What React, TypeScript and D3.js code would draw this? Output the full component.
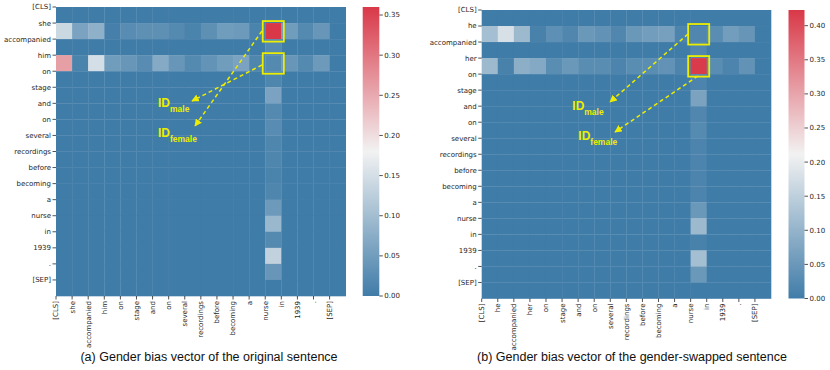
import React from "react";
import * as d3 from "d3";

const tokensA = ["[CLS]", "she", "accompanied", "him", "on", "stage", "and", "on", "several", "recordings", "before", "becoming", "a", "nurse", "in", "1939", ".", "[SEP]"];
const tokensB = ["[CLS]", "he", "accompanied", "her", "on", "stage", "and", "on", "several", "recordings", "before", "becoming", "a", "nurse", "in", "1939", ".", "[SEP]"];

// Chart (a): original sentence
const rowSheA = [0.14, 0.06, 0.08, 0.005, 0.025, 0.03, 0.03, 0.02, 0.01, 0.03, 0.05, 0.045, 0.01, 0.36, 0.05, 0.02, 0.04, 0];
const rowHimA = [0.26, 0.01, 0.15, 0.05, 0.04, 0.025, 0.07, 0.04, 0.02, 0.035, 0.05, 0.06, 0.015, 0.02, 0.04, 0.02, 0.045, 0];
const nurseColA = [0, 0.36, 0.02, 0.02, 0.015, 0.06, 0.02, 0.025, 0.015, 0.015, 0.01, 0.015, 0.045, 0.09, 0.02, 0.13, 0.04, 0];
const vmaxA = 0.36;
const cbarTicksA = [0, 0.05, 0.1, 0.15, 0.2, 0.25, 0.3, 0.35];

// Chart (b): gender-swapped sentence
const rowHeB = [0.12, 0.18, 0.11, 0.01, 0.035, 0.02, 0.05, 0.04, 0.02, 0.05, 0.06, 0.065, 0.015, 0.02, 0.03, 0.06, 0.045, 0];
const rowHerB = [0.11, 0.01, 0.09, 0.08, 0.03, 0.05, 0.03, 0.03, 0.015, 0.03, 0.03, 0.04, 0.015, 0.42, 0.03, 0.015, 0.04, 0];
const nurseColB = [0, 0.02, 0.02, 0.42, 0.015, 0.07, 0.02, 0.025, 0.015, 0.015, 0.015, 0.015, 0.05, 0.11, 0.01, 0.12, 0.05, 0];
const vmaxB = 0.423;
const cbarTicksB = [0, 0.05, 0.1, 0.15, 0.2, 0.25, 0.3, 0.35, 0.4];

const BLUE = "rgb(64,124,168)";
const MID = "rgb(242,242,242)";
const RED = "rgb(217,56,72)";
const YEL = "#eded00";
const TXT = "#262626";

function buildMatrix(r1: number[], r3: number[], col13: number[]) {
  const m: number[][] = [];
  for (let r = 0; r < 18; r++) {
    const row: number[] = [];
    for (let c = 0; c < 18; c++) {
      let v = 0;
      if (r === 1) v = r1[c];
      else if (r === 3) v = r3[c];
      else if (c === 13) v = col13[r];
      row.push(v);
    }
    m.push(row);
  }
  return m;
}

type Ann = {
  maleFrom: [number, number]; maleTo: [number, number];
  femFrom: [number, number]; femTo: [number, number];
  maleLabel: [number, number]; femLabel: [number, number];
};

function Panel(props: {
  id: string; tokens: string[]; matrix: number[][]; vmax: number; ticks: number[];
  x0: number; x1: number; y0: number; y1: number; cbx: number; cbw: number;
  caption: string; capX: number; ann: Ann; boxRows: number[];
}) {
  const { id, tokens, matrix, vmax, ticks, x0, x1, y0, y1, cbx, cbw, caption, capX, ann, boxRows } = props;
  const idx = d3.range(tokens.length);
  const xs = d3.scaleBand<number>().domain(idx).range([x0, x1]);
  const ys = d3.scaleBand<number>().domain(idx).range([y0, y1]);
  const color = d3.scaleLinear<string>().domain([0, vmax / 2, vmax]).range([BLUE, MID, RED]).interpolate(d3.interpolateRgb).clamp(true);
  const cy = d3.scaleLinear().domain([0, vmax]).range([y1, y0]);
  const gradId = "grad-" + id;
  const markId = "arrow-" + id;
  const bw = xs.bandwidth();
  const bh = ys.bandwidth();
  return (
    <g>
      <defs>
        <linearGradient id={gradId} x1="0" y1="1" x2="0" y2="0">
          <stop offset="0%" stopColor={BLUE} />
          <stop offset="50%" stopColor={MID} />
          <stop offset="100%" stopColor={RED} />
        </linearGradient>
        <marker id={markId} viewBox="0 0 10 10" refX="9" refY="5" markerWidth="5" markerHeight="5" orient="auto" markerUnits="strokeWidth">
          <path d="M0,0 L10,5 L0,10 z" fill={YEL} />
        </marker>
      </defs>
      {matrix.map((row, r) =>
        row.map((v, c) => (
          <rect key={r + "-" + c} x={xs(c)!} y={ys(r)!} width={bw + 0.3} height={bh + 0.3} fill={color(v)} />
        ))
      )}
      {/* y axis */}
      {tokens.map((t, i) => (
        <g key={"y" + i}>
          <line x1={x0 - 3.5} x2={x0} y1={ys(i)!} y2={ys(i)!} stroke={TXT} strokeWidth={0.8} />
          <text x={x0 - 5} y={ys(i)!} dy="0.35em" textAnchor="end" fontSize={7} fontFamily="DejaVu Sans" fill={TXT}>{t}</text>
        </g>
      ))}
      {/* x axis */}
      {tokens.map((t, i) => (
        <g key={"x" + i}>
          <line x1={xs(i)!} x2={xs(i)!} y1={y1} y2={y1 + 3.5} stroke={TXT} strokeWidth={0.8} />
          <text transform={`translate(${xs(i)!},${y1 + 5}) rotate(-90)`} dy="0.35em" textAnchor="end" fontSize={7} fontFamily="DejaVu Sans" fill={TXT}>{t}</text>
        </g>
      ))}
      {/* colorbar */}
      <rect x={cbx} y={y0} width={cbw} height={y1 - y0} fill={`url(#${gradId})`} />
      {ticks.map((t) => (
        <g key={"c" + t}>
          <line x1={cbx + cbw} x2={cbx + cbw + 3.5} y1={cy(t)} y2={cy(t)} stroke={TXT} strokeWidth={0.8} />
          <text x={cbx + cbw + 5} y={cy(t)} dy="0.35em" fontSize={7} fontFamily="DejaVu Sans" fill={TXT}>{t.toFixed(2)}</text>
        </g>
      ))}
      {/* highlight boxes */}
      {boxRows.map((r) => (
        <rect key={"b" + r} x={xs(13)! - 2.5} y={ys(r)! - 2} width={bw + 5} height={bh + 4.5} fill="none" stroke={YEL} strokeWidth={1.8} />
      ))}
      {/* arrows */}
      <line x1={ann.maleFrom[0]} y1={ann.maleFrom[1]} x2={ann.maleTo[0]} y2={ann.maleTo[1]} stroke={YEL} strokeWidth={1.5} strokeDasharray="4,3" markerEnd={`url(#${markId})`} />
      <line x1={ann.femFrom[0]} y1={ann.femFrom[1]} x2={ann.femTo[0]} y2={ann.femTo[1]} stroke={YEL} strokeWidth={1.5} strokeDasharray="4,3" markerEnd={`url(#${markId})`} />
      <text x={ann.maleLabel[0]} y={ann.maleLabel[1]} fill={YEL} fontFamily="Liberation Sans, Arial" fontWeight="bold" fontSize={12}>
        ID<tspan fontSize={8.5} dy={5}>male</tspan>
      </text>
      <text x={ann.femLabel[0]} y={ann.femLabel[1]} fill={YEL} fontFamily="Liberation Sans, Arial" fontWeight="bold" fontSize={12}>
        ID<tspan fontSize={8.5} dy={5}>female</tspan>
      </text>
      <text x={capX} y={361} textAnchor="middle" fontSize={12.5} fontFamily="Liberation Sans, Arial" fill="#111">{caption}</text>
    </g>
  );
}

export default function App() {
  const mA = buildMatrix(rowSheA, rowHimA, nurseColA);
  const mB = buildMatrix(rowHeB, rowHerB, nurseColB);
  return (
    <svg width={830} height={370} style={{ position: "absolute", left: 0, top: 0, background: "#fff" }}>
      <rect x={0} y={0} width={830} height={370} fill="#fff" />
      <Panel
        id="a" tokens={tokensA} matrix={mA} vmax={vmaxA} ticks={cbarTicksA}
        x0={56} x1={345.7} y0={7} y1={296} cbx={362.7} cbw={16.6}
        caption="(a) Gender bias vector of the original sentence" capX={209}
        boxRows={[1, 3]}
        ann={{ maleFrom: [262, 65], maleTo: [192, 101], femFrom: [262, 31], femTo: [195, 126], maleLabel: [158, 107], femLabel: [158, 136.5] }}
      />
      <Panel
        id="b" tokens={tokensB} matrix={mB} vmax={vmaxB} ticks={cbarTicksB}
        x0={481.7} x1={771} y0={10} y1={298.5} cbx={788.5} cbw={16}
        caption="(b) Gender bias vector of the gender-swapped sentence" capX={632}
        boxRows={[1, 3]}
        ann={{ maleFrom: [688, 34], maleTo: [610, 102], femFrom: [698, 76], femTo: [615, 132], maleLabel: [572.3, 110], femLabel: [578.3, 139.5] }}
      />
    </svg>
  );
}
